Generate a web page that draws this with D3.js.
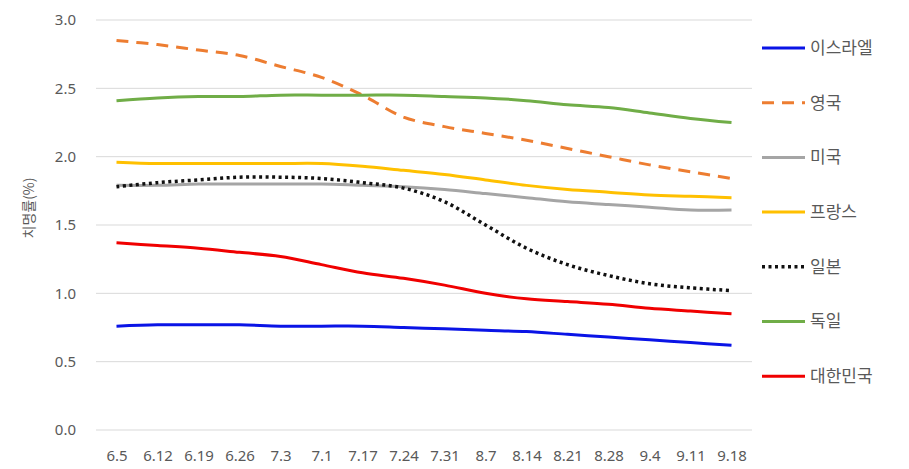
<!DOCTYPE html>
<html>
<head>
<meta charset="utf-8">
<script src="https://cdn.jsdelivr.net/npm/d3@7"></script>
<style>
  body { margin: 0; background: #fff; }
  text { font-family: "Noto Sans CJK KR", "Noto Sans", sans-serif; fill: #595959; }
</style>
</head>
<body>
<script>
// categories (week dates)
const dates = ["6.5","6.12","6.19","6.26","7.3","7.1","7.17","7.24","7.31","8.7","8.14","8.21","8.28","9.4","9.11","9.18"];
const yTicks = [0, 0.5, 1.0, 1.5, 2.0, 2.5, 3.0];

// fatality rate (%) per country
const israel = [0.76,0.77,0.77,0.77,0.76,0.76,0.76,0.75,0.74,0.73,0.72,0.70,0.68,0.66,0.64,0.62];
const uk     = [2.85,2.82,2.78,2.74,2.66,2.58,2.45,2.29,2.22,2.17,2.12,2.06,2.00,1.94,1.89,1.84];
const usa    = [1.79,1.79,1.80,1.80,1.80,1.80,1.79,1.78,1.76,1.73,1.70,1.67,1.65,1.63,1.61,1.61];
const france = [1.96,1.95,1.95,1.95,1.95,1.95,1.93,1.90,1.87,1.83,1.79,1.76,1.74,1.72,1.71,1.70];
const japan  = [1.78,1.81,1.83,1.85,1.85,1.84,1.81,1.77,1.67,1.50,1.33,1.21,1.13,1.07,1.04,1.02];
const germany= [2.41,2.43,2.44,2.44,2.45,2.45,2.45,2.45,2.44,2.43,2.41,2.38,2.36,2.32,2.28,2.25];
const korea  = [1.37,1.35,1.33,1.30,1.27,1.21,1.15,1.11,1.06,1.00,0.96,0.94,0.92,0.89,0.87,0.85];

const series = [
  {name: "이스라엘", values: israel, color: "#0a14e6", dash: null},
  {name: "영국", values: uk, color: "#ED7D31", dash: "12,8"},
  {name: "미국", values: usa, color: "#A5A5A5", dash: null},
  {name: "프랑스", values: france, color: "#FFC000", dash: null},
  {name: "일본", values: japan, color: "#111111", dash: "3,3.5"},
  {name: "독일", values: germany, color: "#70AD47", dash: null},
  {name: "대한민국", values: korea, color: "#f00000", dash: null}
];

const width = 909;
const height = 469;
const margin = {left: 96, right: 157, top: 20, bottom: 39};

const svg = d3.select("body")
  .append("svg")
  .attr("width", width)
  .attr("height", height);

const x = d3.scalePoint()
  .domain(dates)
  .range([margin.left, width - margin.right])
  .padding(0.5);

const y = d3.scaleLinear()
  .domain([0, 3])
  .range([height - margin.bottom, margin.top]);

// gridlines
svg.selectAll(".grid")
  .data(yTicks)
  .enter()
  .append("line")
  .attr("class", "grid")
  .attr("x1", margin.left)
  .attr("x2", width - margin.right)
  .attr("y1", d => y(d))
  .attr("y2", d => y(d))
  .attr("stroke", "#d9d9d9")
  .attr("stroke-width", 1);

// y axis labels
const yAxis = d3.axisLeft(y).tickValues(yTicks).tickFormat(d3.format(".1f")).tickSize(0).tickPadding(20);
svg.append("g")
  .attr("transform", `translate(${margin.left},0)`)
  .call(yAxis)
  .call(g => g.select(".domain").remove())
  .selectAll("text")
  .style("font-size", "15px")
  .style("font-family", "'Noto Sans', sans-serif")
  .attr("fill", "#595959");

// x axis labels
const xAxis = d3.axisBottom(x).tickSize(0).tickPadding(20);
svg.append("g")
  .attr("transform", `translate(0,${height - margin.bottom})`)
  .call(xAxis)
  .call(g => g.select(".domain").remove())
  .selectAll("text")
  .style("font-size", "15px")
  .style("font-family", "'Noto Sans', sans-serif")
  .attr("fill", "#595959");

// y axis title
svg.append("text")
  .attr("transform", "translate(34,208) rotate(-90)")
  .attr("text-anchor", "middle")
  .style("font-size", "14px")
  .text("치명률(%)");

const line = d3.line()
  .x((d, i) => x(dates[i]))
  .y(d => y(d))
  .curve(d3.curveCatmullRom.alpha(0.5));

svg.selectAll(".series")
  .data(series)
  .enter()
  .append("path")
  .attr("class", "series")
  .attr("d", d => line(d.values))
  .attr("fill", "none")
  .attr("stroke", d => d.color)
  .attr("stroke-width", d => d.dash === "3,3.5" ? 3.5 : 3)
  .attr("stroke-dasharray", d => d.dash);

// legend
const legend = svg.selectAll(".legend")
  .data(series)
  .enter()
  .append("g")
  .attr("class", "legend")
  .attr("transform", (d, i) => `translate(762,${48 + i * 54.7})`);

legend.append("line")
  .attr("x1", 0)
  .attr("x2", 43)
  .attr("stroke", d => d.color)
  .attr("stroke-width", d => d.dash === "3,3.5" ? 3.5 : 3)
  .attr("stroke-dasharray", d => d.dash);

legend.append("text")
  .attr("x", 48)
  .attr("dy", "0.35em")
  .style("font-size", "17px")
  .text(d => d.name);
</script>
</body>
</html>
